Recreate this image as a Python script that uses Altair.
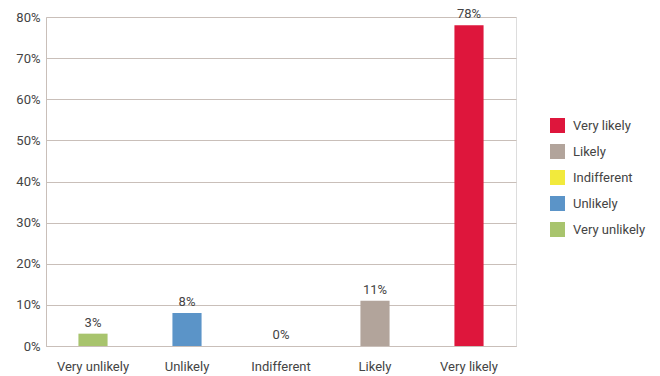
import altair as alt
import pandas as pd

categories = ["Very unlikely", "Unlikely", "Indifferent", "Likely", "Very likely"]
values = [3, 8, 0, 11, 78]
colors = ["#a8c46d", "#5b94c8", "#f2ea3c", "#b2a49b", "#de163c"]
legend_order = ["Very likely", "Likely", "Indifferent", "Unlikely", "Very unlikely"]

df = pd.DataFrame({"cat": categories, "val": values,
                   "label": [f"{v}%" for v in values]})

FONT = "Liberation Sans Narrow, Roboto, Liberation Sans, sans-serif"
GRID = "#c9bfb9"
TEXT = "#444444"

x = alt.X("cat:N", sort=categories, title=None,
          scale=alt.Scale(paddingInner=0.69, paddingOuter=0.345),
          axis=alt.Axis(labelAngle=0, ticks=False, labelPadding=14,
                        labelFontSize=13, labelColor=TEXT, labelFont=FONT,
                        domainColor=GRID))
y = alt.Y("val:Q", title=None,
          scale=alt.Scale(domain=[0, 80]),
          axis=alt.Axis(values=list(range(0, 81, 10)), labelExpr="datum.value + '%'",
                        ticks=False, labelPadding=6, labelFontSize=13,
                        labelColor=TEXT, labelFont=FONT, gridColor=GRID,
                        domainColor=GRID))

bars = alt.Chart(df).mark_bar().encode(
    x=x, y=y,
    color=alt.Color("cat:N", scale=alt.Scale(domain=categories, range=colors),
                    sort=legend_order,
                    legend=alt.Legend(title=None, orient="none", legendX=504, legendY=101,
                                      symbolType="square", symbolSize=225,
                                      symbolStrokeWidth=0, labelFontSize=13,
                                      labelColor=TEXT, labelFont=FONT,
                                      rowPadding=11, labelOffset=8,
                                      values=legend_order)),
)

text = alt.Chart(df).mark_text(dy=-11, fontSize=13, color=TEXT, font=FONT).encode(
    x=alt.X("cat:N", sort=categories), y="val:Q", text="label:N")

chart = (bars + text).properties(
    width=470, height=329,
    autosize=alt.AutoSizeParams(type="none"),
    padding={"left": 46, "top": 17, "right": 144, "bottom": 30},
).configure_view(stroke=GRID, strokeWidth=1).configure(background="white")

chart.save("out.html", embed_options={"renderer": "svg", "actions": False})
